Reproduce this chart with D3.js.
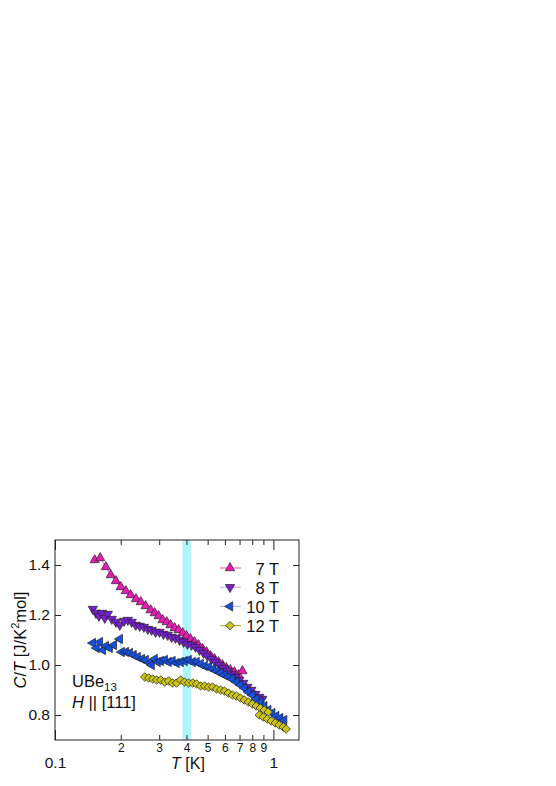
<!DOCTYPE html>
<html>
<head>
<meta charset="utf-8">
<script src="https://cdn.jsdelivr.net/npm/d3@7"></script>
<style>
body { margin: 0; background: #fff; }
text { font-family: "Liberation Sans", Arial, Helvetica, sans-serif; fill: #111; }
</style>
</head>
<body>
<script>
// C/T vs T, UBe13, H || [111]
const t7 = [0.152,0.161,0.171,0.180,0.190,0.200,0.211,0.222,0.235,0.247,0.260,0.274,0.286,0.298,0.311,0.325,0.338,0.353,0.368,0.384,0.400,0.417,0.435,0.454,0.474,0.494,0.515,0.537,0.560,0.584,0.609,0.635,0.663,0.691,0.721];
const c7 = [1.420,1.428,1.392,1.360,1.336,1.312,1.296,1.280,1.264,1.252,1.236,1.220,1.208,1.196,1.180,1.172,1.160,1.148,1.140,1.128,1.116,1.104,1.092,1.080,1.064,1.052,1.036,1.024,1.012,1.000,0.988,0.980,0.972,0.960,0.976];

const t8 = [0.149,0.154,0.159,0.164,0.169,0.1745,0.182,0.190,0.198,0.207,0.2155,0.2246,0.2343,0.2443,0.255,0.266,0.277,0.289,0.301,0.314,0.328,0.342,0.356,0.372,0.388,0.404,0.422,0.440,0.459,0.479,0.499,0.521,0.543,0.566,0.590,0.616,0.642,0.670,0.698,0.728,0.760,0.792,0.826,0.862,0.890];
const c8 = [1.224,1.208,1.196,1.208,1.188,1.204,1.184,1.172,1.160,1.176,1.180,1.172,1.160,1.156,1.152,1.144,1.140,1.132,1.132,1.124,1.120,1.112,1.108,1.100,1.092,1.084,1.080,1.072,1.060,1.048,1.036,1.024,1.012,1.000,0.988,0.976,0.964,0.952,0.940,0.928,0.912,0.900,0.884,0.872,0.864];

const t10 = [0.149,0.155,0.1605,0.1656,0.171,0.178,0.186,0.198,0.202,0.211,0.220,0.229,0.239,0.250,0.260,0.2714,0.277,0.286,0.295,0.305,0.318,0.331,0.345,0.360,0.376,0.392,0.409,0.427,0.445,0.464,0.484,0.505,0.527,0.549,0.573,0.597,0.622,0.649,0.677,0.706,0.736,0.768,0.801,0.835,0.871,0.908,0.947,0.988,1.03,1.074,1.12];
const c10 = [1.088,1.068,1.092,1.060,1.076,1.068,1.080,1.104,1.052,1.052,1.048,1.040,1.032,1.024,1.020,1.008,1.000,1.024,1.012,1.016,1.020,1.012,1.016,1.008,1.012,1.016,1.020,1.012,1.012,1.004,0.996,0.992,0.984,0.976,0.968,0.960,0.952,0.944,0.932,0.920,0.908,0.892,0.880,0.864,0.852,0.836,0.820,0.808,0.796,0.788,0.780];

const t12 = [0.2575,0.2686,0.280,0.292,0.305,0.318,0.331,0.3455,0.360,0.376,0.392,0.409,0.427,0.445,0.464,0.484,0.505,0.527,0.549,0.573,0.597,0.622,0.649,0.677,0.706,0.736,0.768,0.801,0.835,0.871,0.908,0.947,0.862,0.899,0.938,0.978,1.02,1.063,1.109,1.144];
const c12 = [0.952,0.948,0.944,0.940,0.940,0.932,0.936,0.928,0.928,0.940,0.932,0.928,0.928,0.924,0.916,0.916,0.912,0.912,0.904,0.900,0.896,0.888,0.880,0.876,0.868,0.860,0.852,0.844,0.836,0.828,0.820,0.812,0.800,0.792,0.784,0.776,0.768,0.760,0.752,0.744];

const fieldLabels = ["7 T", "8 T", "10 T", "12 T"];
const yTicks = [0.8, 1.0, 1.2, 1.4];
const xMinorTicks = [0.2, 0.3, 0.4, 0.5, 0.6, 0.7, 0.8, 0.9];
const xMajorTicks = [0.1, 1];
const band = [0.383, 0.42];

const series = [
    { label: fieldLabels[0], t: t7, c: c7, shape: "up", fill: "#e81cb4", line: "#e86cc8" },
    { label: fieldLabels[1], t: t8, c: c8, shape: "down", fill: "#7a1ed6", line: "#d4b0f2" },
    { label: fieldLabels[2], t: t10, c: c10, shape: "left", fill: "#1450e4", line: "#a8c4f4" },
    { label: fieldLabels[3], t: t12, c: c12, shape: "diamond", fill: "#cbc414", line: "#b8b030" }
];

const W = 556, H = 786;
const pL = 55, pR = 299, pT = 540, pB = 740;

var svg = d3.select("body").append("svg")
    .attr("width", W)
    .attr("height", H);

var x = d3.scaleLog().domain([0.1, 1.31]).range([pL, pR]);
var y = d3.scaleLinear().domain([0.7, 1.5]).range([pB, pT]);

function symbolPath(shape) {
    if (shape === "diamond") return d3.symbol(d3.symbolSquare, 36)();
    return d3.symbol(d3.symbolTriangle, 38)();
}
function symbolRot(shape) {
    return { up: 0, down: 180, left: -90, diamond: 45 }[shape];
}

// cyan band
svg.append("rect")
    .attr("x", x(band[0]))
    .attr("y", pT)
    .attr("width", x(band[1]) - x(band[0]))
    .attr("height", pB - pT)
    .attr("fill", "#b2f5fa");

// data
var line = d3.line().x(d => x(d[0])).y(d => y(d[1]));
series.forEach(function(s) {
    var pts = s.t.map((t, i) => [t, s.c[i]]);
    svg.append("path")
        .attr("d", line(pts))
        .attr("fill", "none")
        .attr("stroke", s.line)
        .attr("stroke-width", 1);
    svg.append("g").selectAll("path")
        .data(pts)
        .enter().append("path")
        .attr("d", symbolPath(s.shape))
        .attr("transform", d => "translate(" + x(d[0]) + "," + y(d[1]) + ") rotate(" + symbolRot(s.shape) + ")")
        .attr("fill", s.fill)
        .attr("stroke", "#222")
        .attr("stroke-width", 0.7);
});

// axes, ticks inward
function clean(g) { g.select(".domain").remove(); g.selectAll("line").attr("stroke", "#222"); }

svg.append("g").attr("transform", "translate(0," + pB + ")")
    .call(d3.axisBottom(x).tickValues(xMinorTicks).tickSize(-5).tickPadding(3).tickFormat(d => Math.round(d * 10)))
    .call(clean)
    .call(g => g.selectAll("text").attr("font-size", 12).attr("font-family", null));
svg.append("g").attr("transform", "translate(0," + pB + ")")
    .call(d3.axisBottom(x).tickValues(xMajorTicks).tickSize(-10).tickPadding(17).tickFormat(d => d === 1 ? "1" : "0.1"))
    .call(clean)
    .call(g => g.selectAll("text").attr("font-size", 15.5).attr("font-family", null));
svg.append("g").attr("transform", "translate(0," + pT + ")")
    .call(d3.axisTop(x).tickValues(xMinorTicks).tickSize(-5).tickFormat(""))
    .call(clean);
svg.append("g").attr("transform", "translate(0," + pT + ")")
    .call(d3.axisTop(x).tickValues(xMajorTicks).tickSize(-10).tickFormat(""))
    .call(clean);
svg.append("g").attr("transform", "translate(" + pL + ",0)")
    .call(d3.axisLeft(y).tickValues(yTicks).tickSize(-6).tickPadding(5).tickFormat(d3.format(".1f")))
    .call(clean)
    .call(g => g.selectAll("text").attr("font-size", 15.5).attr("font-family", null));
svg.append("g").attr("transform", "translate(" + pR + ",0)")
    .call(d3.axisRight(y).tickValues(yTicks).tickSize(-6).tickFormat(""))
    .call(clean);

svg.append("rect")
    .attr("x", pL).attr("y", pT)
    .attr("width", pR - pL).attr("height", pB - pT)
    .attr("fill", "none").attr("stroke", "#222").attr("stroke-width", 1);

// legend
var leg = svg.append("g");
series.forEach(function(s, i) {
    var ly = 568 + i * 19.2;
    leg.append("line")
        .attr("x1", 220).attr("x2", 241).attr("y1", ly).attr("y2", ly)
        .attr("stroke", s.line).attr("stroke-width", 1.2);
    leg.append("path")
        .attr("d", symbolPath(s.shape))
        .attr("transform", "translate(230," + ly + ") rotate(" + symbolRot(s.shape) + ")")
        .attr("fill", s.fill).attr("stroke", "#222").attr("stroke-width", 0.7);
    leg.append("text")
        .attr("x", 279).attr("y", ly + 6.5)
        .attr("text-anchor", "end")
        .attr("font-size", 16.5)
        .text(s.label);
});

// labels
var xl = svg.append("text")
    .attr("x", 188).attr("y", 769)
    .attr("text-anchor", "middle")
    .attr("font-size", 16);
xl.append("tspan").attr("font-style", "italic").text("T");
xl.append("tspan").text(" [K]");

var yl = svg.append("text")
    .attr("transform", "translate(26,640) rotate(-90)")
    .attr("text-anchor", "middle")
    .attr("font-size", 16.5);
yl.append("tspan").attr("font-style", "italic").text("C");
yl.append("tspan").text("/");
yl.append("tspan").attr("font-style", "italic").text("T");
yl.append("tspan").text(" [J/K");
yl.append("tspan").attr("font-size", 11).attr("dy", -7).text("2");
yl.append("tspan").attr("dy", 7).text("mol]");

var sample = svg.append("text")
    .attr("x", 72).attr("y", 687)
    .attr("font-size", 16.5);
sample.append("tspan").text("UBe");
sample.append("tspan").attr("font-size", 11.5).attr("dy", 4).text("13");

var dir = svg.append("text")
    .attr("x", 72).attr("y", 708)
    .attr("font-size", 16.5);
dir.append("tspan").attr("font-style", "italic").text("H");
dir.append("tspan").text(" || [111]");
</script>
</body>
</html>
